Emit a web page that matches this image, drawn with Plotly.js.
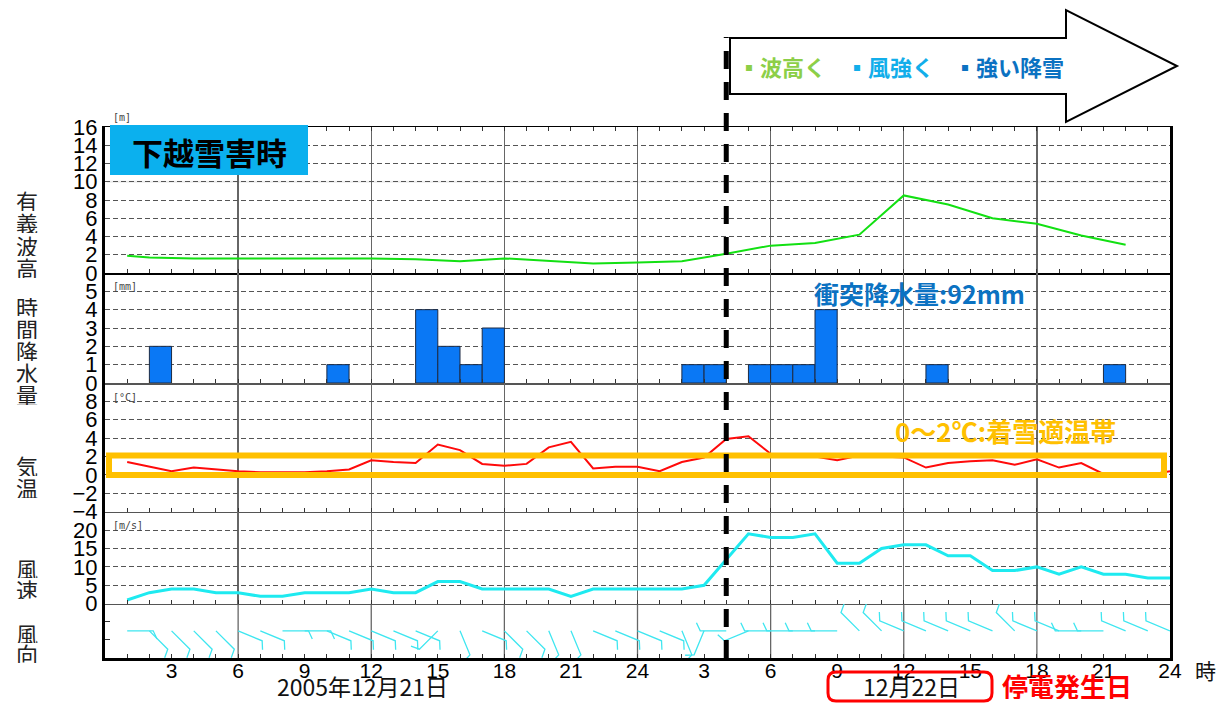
<!DOCTYPE html>
<html><head><meta charset="utf-8">
<script src="https://cdn.plot.ly/plotly-3.0.1.min.js"></script>
<style>html,body{margin:0;padding:0;background:#fff}#chart{width:1224px;height:704px}</style>
</head><body><div id="chart"></div>
<script>
// ---------------- data ----------------
const waveHours  = [1,2,4,6,8,10,12,14,16,18,20,22,24,26,28,30,32,34,36,38,40,42,44,46];
const waveHeight = [1.9,1.7,1.6,1.6,1.6,1.6,1.6,1.5,1.3,1.6,1.35,1.05,1.15,1.3,2.1,3.0,3.3,4.2,8.5,7.5,6.0,5.4,4.1,3.1];

const precipHourEnd = [3,11,15,16,17,18,27,28,30,31,32,33,38,46];
const precipMm      = [2,1,4,2,1,3,1,1,1,1,1,4,1,1];

const hours = [1,2,3,4,5,6,7,8,9,10,11,12,13,14,15,16,17,18,19,20,21,22,23,24,
               25,26,27,28,29,30,31,32,33,34,35,36,37,38,39,40,41,42,43,44,45,46,47,48];
const temperature = [1.4,0.9,0.4,0.8,0.6,0.4,0.3,0.3,0.3,0.4,0.6,1.6,1.4,1.3,3.3,2.7,1.2,1.0,1.2,3.0,3.6,0.7,0.9,0.9,
                     0.4,1.4,1.9,3.9,4.2,2.3,2.2,2.0,1.6,2.1,2.0,1.9,0.8,1.3,1.5,1.6,1.1,1.7,0.8,1.3,0.1,0.0,0.0,0.4];
const windSpeed = [1,3,4,4,3,3,2,2,3,3,3,4,3,3,6,6,4,4,4,4,2,4,4,4,
                   4,4,5,12,19,18,18,19,11,11,15,16,16,13,13,9,9,10,8,10,8,8,7,7];
const windDirDeg = [90,135,135,135,135,112.5,112.5,90,90,112.5,
                    112.5,112.5,112.5,112.5,225,157.5,112.5,135,135,157.5,
                    157.5,112.5,112.5,112.5,112.5,157.5,202.5,270,247.5,270,
                    270,270,270,315,315,292.5,292.5,292.5,292.5,292.5,
                    315,292.5,292.5,270,270,292.5,292.5,292.5];

const hourTickVals = [3,6,9,12,15,18,21,24,27,30,33,36,39,42,45,48];
const hourTickText = ['3','6','9','12','15','18','21','24','3','6','9','12','15','18','21','24'];
const outageHour = 28;           // 12/22 04:00 marker
const snowBandLow = 0, snowBandHigh = 2.1;

// ---------------- geometry ----------------
const W=1224, H=704, ML=105, MR=54, MT=127, MB=46;
const PW=W-ML-MR, PH=H-MT-MB;
const px = v => (v-ML)/PW;
const py = v => (H-MB-v)/PH;
const dom = (bottom, top) => [py(bottom), py(top)];

// wind barbs built from direction data
const pxPerHour = PW/48, pxPerDirUnit = (658-603.7)/3;
const shaftPx=26, barbPx=9, barbTurn=65*Math.PI/180, stationLevel=1.5;
const dirX=[], dirY=[];
windDirDeg.forEach((d,i)=>{
  const h=hours[i], th=d*Math.PI/180;
  const sx=Math.sin(th), sy=-Math.cos(th);
  const bx=sx*Math.cos(barbTurn)-sy*Math.sin(barbTurn);
  const by=sx*Math.sin(barbTurn)+sy*Math.cos(barbTurn);
  const x1=h+sx*shaftPx/pxPerHour, y1=stationLevel-sy*shaftPx/pxPerDirUnit;
  const x2=x1+bx*barbPx/pxPerHour, y2=y1-by*barbPx/pxPerDirUnit;
  dirX.push(h,x1,x2,null); dirY.push(stationLevel,y1,y2,null);
});

const traces = [
  {type:'scatter',mode:'lines',x:waveHours,y:waveHeight,xaxis:'x',yaxis:'y',line:{color:'#12E012',width:2}},
  {type:'bar',x:precipHourEnd.map(h=>h-0.5),y:precipMm,width:1,xaxis:'x2',yaxis:'y2',
   marker:{color:'#0A78F5',line:{color:'#1c2b45',width:1}}},
  {type:'scatter',mode:'lines',x:hours,y:temperature,xaxis:'x3',yaxis:'y3',line:{color:'#FF0a0a',width:2}},
  {type:'scatter',mode:'lines',x:hours,y:windSpeed,xaxis:'x4',yaxis:'y4',line:{color:'#1EEAF0',width:3}},
  {type:'scatter',mode:'lines',x:dirX,y:dirY,xaxis:'x5',yaxis:'y5',line:{color:'#3FE6F0',width:1.3},connectgaps:false}
];

const numFont = {family:'Liberation Sans, Arial, sans-serif', size:22, color:'#000'};
function xa(anchor, extra){
  return Object.assign({
    anchor, range:[0,48], showgrid:true, gridcolor:'#666', gridwidth:1.3,
    tickmode:'linear', tick0:0, dtick:6, ticks:'inside', ticklen:4, tickcolor:'#333',
    showticklabels:false, showline:true, linecolor:'#555', linewidth:1.5, zeroline:false,
    minor:{tickmode:'linear', tick0:0, dtick:1, ticks:'inside', ticklen:4, tickcolor:'#333', showgrid:false},
    fixedrange:true
  }, extra||{});
}
function ya(domain, range, tickvals, extra){
  return Object.assign({
    domain, range, tickmode:'array', tickvals, showline:true, linecolor:'#000', linewidth:3, mirror:true,
    showgrid:true, gridcolor:'#555', gridwidth:1, griddash:'5px,3px', zeroline:false, ticks:'',
    tickfont:numFont, fixedrange:true
  }, extra||{});
}

const layout = {
  width:W, height:H, margin:{l:ML,r:MR,t:MT,b:MB,pad:0},
  paper_bgcolor:'#fff', plot_bgcolor:'#fff', showlegend:false,
  xaxis: xa('y',{linecolor:'#000', mirror:'ticks'}),
  xaxis2: xa('y2',{matches:'x'}),
  xaxis3: xa('y3',{matches:'x'}),
  xaxis4: xa('y4',{matches:'x'}),
  xaxis5: xa('y5',{matches:'x', tickmode:'array', tickvals:hourTickVals, ticktext:hourTickText,
                   showticklabels:true, showgrid:false, linecolor:'#000', linewidth:3, ticklabelstandoff:-8,
                   tickfont:{family:'Liberation Sans, Arial, sans-serif', size:21, color:'#000'}}),
  yaxis:  ya(dom(273,127), [0,16], [0,2,4,6,8,10,12,14,16]),
  yaxis2: ya(dom(383,273), [0,6], [0,1,2,3,4,5]),
  yaxis3: ya(dom(511.7,383), [-4,10], [-4,-2,0,2,4,6,8]),
  yaxis4: ya(dom(603.7,511.7), [0,25], [0,5,10,15,20]),
  yaxis5: ya(dom(658,603.7), [0,3], [1,2], {ticktext:['',''], showgrid:false, ticks:'inside', ticklen:5, tickcolor:'#333'}),
  shapes:[], annotations:[]
};

// vertical 6-hour grid in wind-direction panel
[6,12,18,24,30,36,42].forEach(h=>layout.shapes.push({type:'line',xref:'x5',yref:'y5 domain',x0:h,x1:h,y0:0,y1:1,
  line:{color:'#666',width:1.3},layer:'below'}));
// faint 10 m gridline
layout.shapes.push({type:'line',xref:'paper',yref:'y',x0:0.002,x1:0.998,y0:10,y1:10,line:{color:'#ececec',width:2},layer:'between'});
// snow accretion temperature band
layout.shapes.push({type:'rect',xref:'paper',yref:'y3',x0:px(109),x1:px(1164),y0:snowBandLow,y1:snowBandHigh,
  line:{color:'#FFC000',width:6},fillcolor:'rgba(0,0,0,0)',layer:'above'});
// title box
layout.shapes.push({type:'rect',xref:'paper',yref:'paper',x0:px(110),x1:px(308),y0:py(175),y1:py(125),
  line:{width:0},fillcolor:'#0BB0EE',layer:'above'});
// arrow
const arrowPts=[[730,38],[1066,38],[1066,10],[1177,66],[1066,122],[1066,94],[730,94]];
layout.shapes.push({type:'path',xref:'paper',yref:'paper',
  path:'M'+arrowPts.map(p=>px(p[0])+','+py(p[1])).join(' L')+' Z',
  line:{color:'#000',width:2},fillcolor:'#fff',layer:'above'});
// outage dashed line
layout.shapes.push({type:'line',xref:'x',yref:'paper',x0:outageHour,x1:outageHour,y0:py(658),y1:py(37),
  line:{color:'#000',width:5,dash:'18px,13px'},layer:'above'});
// red rounded box
function roundRect(x0,y0,x1,y1,r){
  const P=(x,y)=>px(x)+','+py(y);
  return 'M'+P(x0+r,y0)+' L'+P(x1-r,y0)+' Q'+P(x1,y0)+' '+P(x1,y0+r)+' L'+P(x1,y1-r)+' Q'+P(x1,y1)+' '+P(x1-r,y1)+
         ' L'+P(x0+r,y1)+' Q'+P(x0,y1)+' '+P(x0,y1-r)+' L'+P(x0,y0+r)+' Q'+P(x0,y0)+' '+P(x0+r,y0)+' Z';
}
layout.shapes.push({type:'path',xref:'paper',yref:'paper',path:roundRect(828,672,992,701,8),
  line:{color:'#FF0000',width:3},fillcolor:'rgba(0,0,0,0)',layer:'above'});

const JP='Noto Sans CJK JP, sans-serif';
function ann(text,x,y,font,xanchor,h){
  const a={text,xref:'paper',yref:'paper',x:px(x),y:py(y),showarrow:false,
    xanchor:xanchor||'center',yanchor:'middle',valign:'middle',font};
  if(h) a.height=h;
  layout.annotations.push(a);
}
ann('下越雪害時',209,151,{family:JP,size:31,color:'#000',weight:700});
ann('▪波高く',736,66,{family:JP,size:22,color:'#8CCF48',weight:700},'left');
ann('▪風強く',844,66,{family:JP,size:22,color:'#12AEEA',weight:700},'left');
ann('▪強い降雪',952,66,{family:JP,size:22,color:'#0B72C2',weight:700},'left');
ann('衝突降水量:92mm',919,293,{family:JP,size:25,color:'#0B72C2',weight:700});
ann('0〜2℃:着雪適温帯',1005,430,{family:JP,size:26,color:'#FFC000',weight:700});
const unitFont={family:'DejaVu Sans Mono, monospace',size:10,color:'#444'};
ann('[m]',111,117,unitFont,'left');
ann('[mm]',111,286,unitFont,'left');
ann('[°C]',111,397,unitFont,'left');
ann('[m/s]',111,525,unitFont,'left');
function vlabel(str,y0,step){
  [...str].forEach((c,i)=>ann(c,27,y0+i*step,{family:JP,size:22,color:'#222'},'center',Math.floor(step)));
}
vlabel('有義波高',200,22.3);
vlabel('時間降水量',306,22);
vlabel('気温',465,22);
vlabel('風速',567,21);
vlabel('風向',633,20);
ann('2005年12月21日',362,686,{family:JP,size:23,color:'#111'},'center',24);
ann('12月22日',911,686,{family:JP,size:23,color:'#111'},'center',24);
ann('停電発生日',1000,685,{family:JP,size:26,color:'#FF0000',weight:700},'left',27);
ann('時',1205,670,{family:JP,size:21,color:'#111'});

Plotly.newPlot('chart',traces,layout,{displayModeBar:false,staticPlot:true});
</script></body></html>
